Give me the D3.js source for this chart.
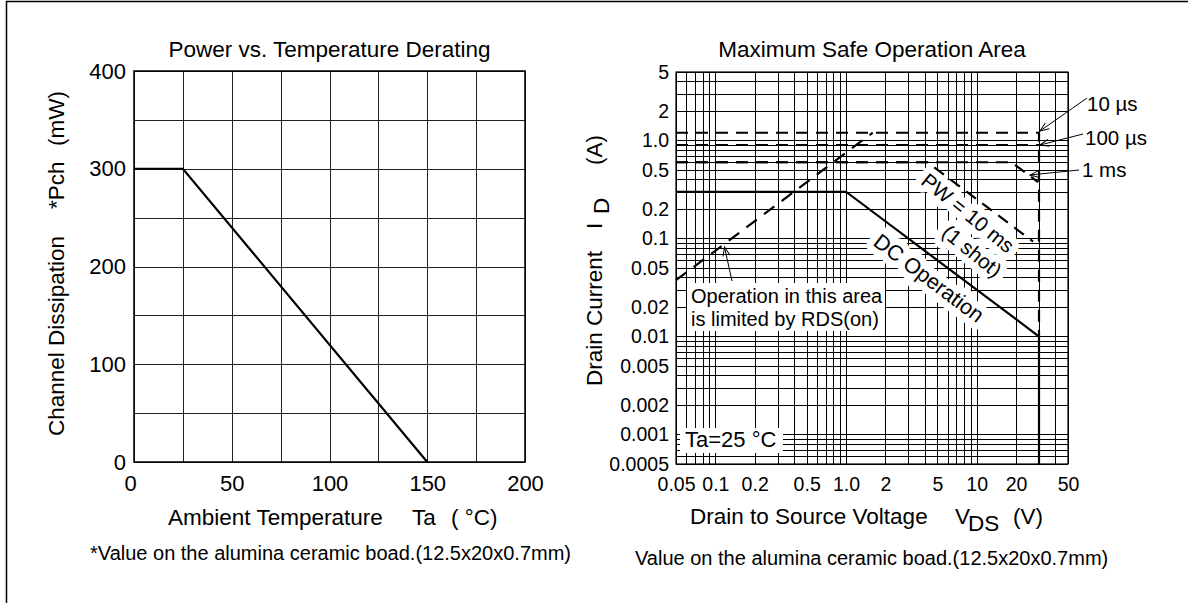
<!DOCTYPE html>
<html>
<head>
<meta charset="utf-8">
<script src="https://cdn.jsdelivr.net/npm/d3@7"></script>
<style>
  html, body { margin: 0; padding: 0; background: #fff; }
  svg { display: block; font-family: "Liberation Sans", Arial, Helvetica, sans-serif; }
</style>
</head>
<body>
<svg id="chart" width="1188" height="603"></svg>
<script>
// ---- Power vs. Temperature Derating ----
const derateTemp = [0, 25, 150];
const deratePower = [300, 300, 0];
const tempTicks = [0, 50, 100, 150, 200];
const powerTicks = [0, 100, 200, 300, 400];
const tempGrid = [0, 25, 50, 75, 100, 125, 150, 175, 200];
const powerGrid = [0, 50, 100, 150, 200, 250, 300, 350, 400];

// ---- Maximum Safe Operation Area ----
const vdsTicks = [0.05, 0.1, 0.2, 0.5, 1, 2, 5, 10, 20, 50];
const vdsTickLabels = ['0.05', '0.1', '0.2', '0.5', '1.0', '2', '5', '10', '20', '50'];
const idTicks = [5, 2, 1, 0.5, 0.2, 0.1, 0.05, 0.02, 0.01, 0.005, 0.002, 0.001, 0.0005];
const idTickLabels = ['5', '2', '1.0', '0.5', '0.2', '0.1', '0.05', '0.02', '0.01', '0.005', '0.002', '0.001', '0.0005'];

// SOA boundaries (VDS in V, ID in A)
const dcVds = [0.05, 1.0, 30, 30];
const dcId = [0.3, 0.3, 0.01, 0.0005];
const us10Vds = [0.05, 30, 30];
const us10Id = [1.2, 1.2, 0.01];
const us100Vds = [0.05, 30];
const us100Id = [0.9, 0.9];
const ms1Vds = [0.05, 18.5, 29.5];
const ms1Id = [0.6, 0.6, 0.375];
const ms10Vds = [0.05, 4.2, 27];
const ms10Id = [0.6, 0.6, 0.093];
const rdsVds = [0.05, 1.6];
const rdsId = [0.0375, 1.2];

const svg = d3.select('#chart');

// page frame (only top and left edges show)
svg.append('path')
  .attr('d', 'M6.5,603 V1.5 H1188')
  .attr('fill', 'none')
  .attr('stroke', '#000')
  .attr('stroke-width', 1.5);

// arrow marker for annotations
svg.append('defs').append('marker')
  .attr('id', 'arrow')
  .attr('markerUnits', 'userSpaceOnUse')
  .attr('viewBox', '-10 -5 12 10')
  .attr('markerWidth', 12)
  .attr('markerHeight', 10)
  .attr('orient', 'auto')
  .append('path')
  .attr('d', 'M-9,-3.5 L0,0 L-9,3.5')
  .attr('fill', 'none')
  .attr('stroke', '#000')
  .attr('stroke-width', 1);

function addText(g, x, y, str, size, anchor) {
  return g.append('text')
    .attr('x', x)
    .attr('y', y)
    .attr('font-size', size)
    .attr('text-anchor', anchor || 'start')
    .attr('fill', '#000')
    .text(str);
}

function styleAxisText(g, size) {
  g.select('.domain').remove();
  g.attr('font-family', null);
  g.selectAll('text').attr('font-size', size).attr('fill', '#000');
}

// ================= LEFT CHART =================
const L = { x0: 134, x1: 525, y0: 71, y1: 462 };
const lx = d3.scaleLinear().domain([0, 200]).range([L.x0, L.x1]);
const ly = d3.scaleLinear().domain([0, 400]).range([L.y1, L.y0]);
const gL = svg.append('g');

// grid
gL.append('g')
  .attr('transform', `translate(0,${L.y1})`)
  .call(d3.axisBottom(lx).tickValues(tempGrid).tickSize(-(L.y1 - L.y0)).tickFormat(''))
  .call(g => g.select('.domain').remove())
  .selectAll('line').attr('stroke', '#222').attr('shape-rendering', 'crispEdges');
gL.append('g')
  .attr('transform', `translate(${L.x0},0)`)
  .call(d3.axisLeft(ly).tickValues(powerGrid).tickSize(-(L.x1 - L.x0)).tickFormat(''))
  .call(g => g.select('.domain').remove())
  .selectAll('line').attr('stroke', '#222').attr('shape-rendering', 'crispEdges');

gL.append('rect')
  .attr('x', L.x0).attr('y', L.y0)
  .attr('width', L.x1 - L.x0).attr('height', L.y1 - L.y0)
  .attr('fill', 'none').attr('stroke', '#000').attr('stroke-width', 1.5);

// tick labels
gL.append('g')
  .attr('transform', `translate(0,${L.y1})`)
  .call(d3.axisBottom(lx).tickValues(tempTicks).tickSize(0).tickPadding(13))
  .call(g => styleAxisText(g, 22))
  .selectAll('text').filter(d => d === 0).attr('dx', -4);
gL.append('g')
  .attr('transform', `translate(${L.x0},0)`)
  .call(d3.axisLeft(ly).tickValues(powerTicks).tickSize(0).tickPadding(8))
  .call(g => styleAxisText(g, 22));

// derating line
const derateLine = d3.line().x(d => lx(d[0])).y(d => ly(d[1]));
gL.append('path')
  .datum(derateTemp.map((t, i) => [t, deratePower[i]]))
  .attr('d', derateLine)
  .attr('fill', 'none')
  .attr('stroke', '#000')
  .attr('stroke-width', 2.2);

// titles / labels
addText(gL, (L.x0 + L.x1) / 2, 57, 'Power vs. Temperature Derating', 22.5, 'middle');

const xlabL = gL.append('text').attr('y', 525).attr('font-size', 22.5).attr('fill', '#000');
xlabL.append('tspan').attr('x', 168).text('Ambient Temperature');
xlabL.append('tspan').attr('x', 412).text('Ta');
xlabL.append('tspan').attr('x', 451).text('( °C)');

const ylabL = gL.append('text')
  .attr('transform', 'translate(64,0) rotate(-90)')
  .attr('font-size', 22.5).attr('fill', '#000');
ylabL.append('tspan').attr('x', -436).text('Channel Dissipation');
ylabL.append('tspan').attr('x', -209).text('*Pch');
ylabL.append('tspan').attr('x', -146).text('(mW)');

addText(gL, 90, 560, '*Value on the alumina ceramic boad.(12.5x20x0.7mm)', 20);

// ================= RIGHT CHART =================
const R = { x0: 676, x1: 1068, y0: 72, y1: 464 };
const rx = d3.scaleLog().domain([0.05, 50]).range([R.x0, R.x1]);
const ry = d3.scaleLog().domain([0.0005, 5]).range([R.y1, R.y0]);
const gR = svg.append('g');

// log grid
gR.append('g')
  .attr('transform', `translate(0,${R.y1})`)
  .call(d3.axisBottom(rx).tickValues(rx.ticks()).tickSize(-(R.y1 - R.y0)).tickFormat(''))
  .call(g => g.select('.domain').remove())
  .selectAll('line').attr('stroke', '#000').attr('shape-rendering', 'crispEdges');
gR.append('g')
  .attr('transform', `translate(${R.x0},0)`)
  .call(d3.axisLeft(ry).tickValues(ry.ticks()).tickSize(-(R.x1 - R.x0)).tickFormat(''))
  .call(g => g.select('.domain').remove())
  .selectAll('line').attr('stroke', '#000').attr('shape-rendering', 'crispEdges');

gR.append('rect')
  .attr('x', R.x0).attr('y', R.y0)
  .attr('width', R.x1 - R.x0).attr('height', R.y1 - R.y0)
  .attr('fill', 'none').attr('stroke', '#000').attr('stroke-width', 1.2);

// knock-outs behind the annotation texts
const knock = gR.append('g');
knock.append('rect').attr('x', 687).attr('y', 283).attr('width', 198).attr('height', 48).attr('fill', '#fff');
knock.append('rect').attr('x', 680).attr('y', 428).attr('width', 103).attr('height', 25).attr('fill', '#fff');

const rotLabels = [
  { text: 'PW = 10 ms', x: 968, y: 213, angle: 39, size: 20.5 },
  { text: '(1 shot)', x: 972, y: 251, angle: 39, size: 20.5 },
  { text: 'DC Operation', x: 929, y: 278, angle: 37, size: 21.5 }
];
knock.selectAll('text')
  .data(rotLabels)
  .enter()
  .append('text')
  .attr('transform', d => `translate(${d.x},${d.y}) rotate(${d.angle})`)
  .attr('text-anchor', 'middle')
  .attr('dy', '0.35em')
  .attr('font-size', d => d.size)
  .attr('fill', '#fff')
  .attr('stroke', '#fff')
  .attr('stroke-width', 14)
  .attr('stroke-linejoin', 'round')
  .text(d => d.text);

// tick labels
gR.append('g')
  .attr('transform', `translate(0,${R.y1})`)
  .call(d3.axisBottom(rx).tickValues(vdsTicks).tickSize(0).tickPadding(13).tickFormat((d, i) => vdsTickLabels[i]))
  .call(g => styleAxisText(g, 19.5));
gR.append('g')
  .attr('transform', `translate(${R.x0},0)`)
  .call(d3.axisLeft(ry).tickValues(idTicks).tickSize(0).tickPadding(7).tickFormat((d, i) => idTickLabels[i]))
  .call(g => styleAxisText(g, 19.5));

// SOA curves
const soaLine = d3.line().x(d => rx(d[0])).y(d => ry(d[1]));
const curves = [
  { v: us10Vds, i: us10Id, dash: '12,8' },
  { v: us100Vds, i: us100Id, dash: '12,8' },
  { v: ms1Vds, i: ms1Id, dash: '12,8' },
  { v: ms10Vds, i: ms10Id, dash: '12,8' },
  { v: rdsVds, i: rdsId, dash: '13,9' },
  { v: dcVds, i: dcId, dash: null }
];
gR.selectAll('path.soa')
  .data(curves)
  .enter()
  .append('path')
  .attr('class', 'soa')
  .attr('d', d => soaLine(d.v.map((v, k) => [v, d.i[k]])))
  .attr('fill', 'none')
  .attr('stroke', '#000')
  .attr('stroke-width', 2.2)
  .attr('stroke-dasharray', d => d.dash);

// rotated annotation texts
gR.selectAll('text.rot')
  .data(rotLabels)
  .enter()
  .append('text')
  .attr('class', 'rot')
  .attr('transform', d => `translate(${d.x},${d.y}) rotate(${d.angle})`)
  .attr('text-anchor', 'middle')
  .attr('dy', '0.35em')
  .attr('font-size', d => d.size)
  .attr('fill', '#000')
  .text(d => d.text);

// RDS(on) note
addText(gR, 691, 303, 'Operation in this area', 20);
addText(gR, 691, 326, 'is limited by RDS(on)', 20);
addText(gR, 685, 447, 'Ta=25 °C', 22);

// pulse width labels with arrows
const pulseNotes = [
  { text: '10 µs', tx: 1087, ty: 111, from: [1087, 98], to: [1040, 131] },
  { text: '100 µs', tx: 1085, ty: 145, from: [1083, 134], to: [1040, 145] },
  { text: '1 ms', tx: 1082, ty: 177, from: [1079, 170], to: [1030, 175] }
];
pulseNotes.forEach(n => {
  gR.append('line')
    .attr('x1', n.from[0]).attr('y1', n.from[1])
    .attr('x2', n.to[0]).attr('y2', n.to[1])
    .attr('stroke', '#000').attr('stroke-width', 1)
    .attr('marker-end', 'url(#arrow)');
  addText(gR, n.tx, n.ty, n.text, 20.5);
});
gR.append('line')
  .attr('x1', 732).attr('y1', 281)
  .attr('x2', 724.5).attr('y2', 247)
  .attr('stroke', '#000').attr('stroke-width', 1)
  .attr('marker-end', 'url(#arrow)');

// titles / labels
addText(gR, (R.x0 + R.x1) / 2, 57, 'Maximum Safe Operation Area', 22.5, 'middle');

const xlabR = gR.append('text').attr('y', 524).attr('font-size', 22.5).attr('fill', '#000');
xlabR.append('tspan').attr('x', 690).text('Drain to Source Voltage');
xlabR.append('tspan').attr('x', 955).text('V');
xlabR.append('tspan').attr('x', 968).attr('dy', 7).text('DS');
xlabR.append('tspan').attr('x', 1013).attr('dy', -7).text('(V)');

const ylabR = gR.append('text')
  .attr('transform', 'translate(602,0) rotate(-90)')
  .attr('font-size', 22.5).attr('fill', '#000');
ylabR.append('tspan').attr('x', -386).text('Drain Current');
ylabR.append('tspan').attr('x', -229).text('I');
ylabR.append('tspan').attr('x', -214).attr('dy', 7).text('D');
ylabR.append('tspan').attr('x', -165).attr('dy', -7).text('(A)');

addText(gR, 635, 565, 'Value on the alumina ceramic boad.(12.5x20x0.7mm)', 20);
</script>
</body>
</html>
